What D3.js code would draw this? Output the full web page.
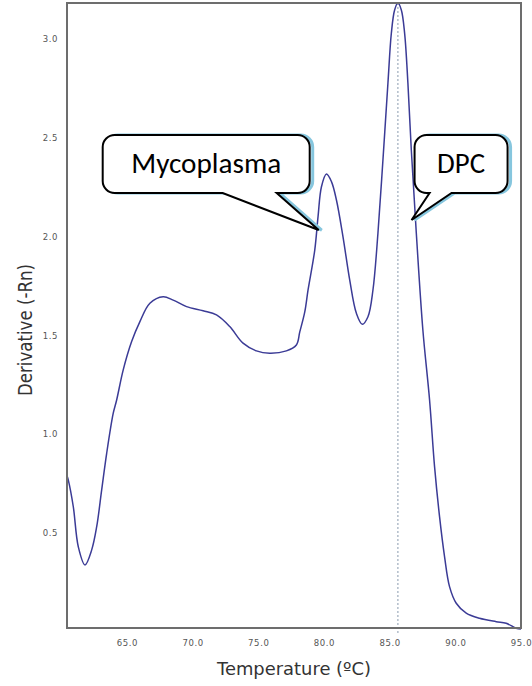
<!DOCTYPE html>
<html><head><meta charset="utf-8">
<script src="https://cdn.jsdelivr.net/npm/d3@7"></script>
<style>html,body{margin:0;padding:0;background:#fff;}svg{display:block;}</style>
</head><body>
<script>
// ---- data ----
const temperature = [60.44,60.54,60.92,61.30,61.81,62.32,62.70,63.08,63.46,63.96,64.22,64.72,65.36,65.99,66.75,67.76,68.52,69.54,70.80,71.82,72.83,73.84,74.86,75.87,77.14,77.90,78.16,78.54,78.79,79.30,79.55,79.81,80.19,80.57,80.95,81.45,81.96,82.47,82.92,83.35,83.73,84.11,84.49,84.87,85.13,85.38,85.63,85.89,86.14,86.39,86.65,87.03,87.53,88.04,88.42,88.80,89.18,89.56,90.07,90.83,91.84,93.11,93.87,94.63,95.0];
const derivative  = [0.79,0.768,0.633,0.431,0.339,0.415,0.532,0.718,0.903,1.106,1.173,1.325,1.468,1.569,1.662,1.695,1.678,1.645,1.624,1.603,1.544,1.460,1.421,1.409,1.421,1.451,1.517,1.618,1.729,1.931,2.100,2.251,2.315,2.277,2.184,1.998,1.780,1.611,1.556,1.594,1.729,2.016,2.386,2.774,3.027,3.145,3.18,3.145,3.028,2.776,2.437,2.017,1.527,1.173,0.836,0.583,0.381,0.229,0.145,0.095,0.069,0.052,0.044,0.019,0.015];
const xTicks = [65,70,75,80,85,90,95];
const yTicks = [0.5,1.0,1.5,2.0,2.5,3.0];
const peakTemp = 85.63;
const callouts = [
  {label:"Mycoplasma", tipT:79.6, tipV:2.032},
  {label:"DPC", tipT:86.67, tipV:2.083}
];
const xTitle = "Temperature (\u00baC)";
const yTitle = "Derivative (-Rn)";

// ---- layout ----
const W=532,H=686;
const L=67,R=521,T=3,B=628;
const svg=d3.select("body").append("svg").attr("width",W).attr("height",H);
const x=d3.scaleLinear().domain([60.44,95]).range([L,R]);
const y=d3.scaleLinear().domain([0.02,3.18]).range([B,T]);

// axes (labels only)
const tickFont="'DejaVu Sans', sans-serif";
const gx=svg.append("g").attr("transform",`translate(0,${B})`)
  .call(d3.axisBottom(x).tickValues(xTicks).tickSize(0).tickPadding(12).tickFormat(d3.format(".1f")));
gx.select(".domain").remove();
gx.selectAll("text").attr("font-family",tickFont).attr("font-size",8.5).attr("fill","#555").attr("letter-spacing","0.6px");
const gy=svg.append("g").attr("transform",`translate(${L},0)`)
  .call(d3.axisLeft(y).tickValues(yTicks).tickSize(0).tickPadding(9).tickFormat(d3.format(".1f")));
gy.select(".domain").remove();
gy.selectAll("text").attr("font-family",tickFont).attr("font-size",8.5).attr("fill","#555").attr("letter-spacing","0.6px");

// dashed peak marker
svg.append("line").attr("x1",x(peakTemp)).attr("x2",x(peakTemp)).attr("y1",T).attr("y2",B+5)
  .attr("stroke","#8a9aae").attr("stroke-width",1).attr("stroke-dasharray","2,2");

// curve
const pts=temperature.map((t,i)=>[t,derivative[i]]);
svg.append("path").datum(pts)
  .attr("d",d3.line().x(d=>x(d[0])).y(d=>y(d[1])).curve(d3.curveCatmullRom.alpha(0.5)))
  .attr("fill","none").attr("stroke","#3b3b96").attr("stroke-width",1.5);

// frame
svg.append("rect").attr("x",L).attr("y",T).attr("width",R-L).attr("height",B-T)
  .attr("fill","none").attr("stroke","#6d6d6d").attr("stroke-width",2);

// titles
svg.append("text").attr("x",294).attr("y",675).attr("text-anchor","middle")
  .attr("font-family","'DejaVu Sans', sans-serif").attr("font-size",17).attr("fill","#333")
  .attr("textLength",154).attr("lengthAdjust","spacingAndGlyphs").text(xTitle);
svg.append("text").attr("transform","translate(32,330) rotate(-90)").attr("text-anchor","middle")
  .attr("font-family","'DejaVu Sans', sans-serif").attr("font-size",20).attr("fill","#333")
  .attr("textLength",132).attr("lengthAdjust","spacingAndGlyphs").text(yTitle);

// callouts
function calloutPath(x0,y0,x1,y1,r,b0,b1,tx,ty){
  const p=d3.path();
  p.moveTo(x0+r,y0);
  p.lineTo(x1-r,y0); p.arcTo(x1,y0,x1,y0+r,r);
  p.lineTo(x1,y1-r); p.arcTo(x1,y1,x1-r,y1,r);
  p.lineTo(b1,y1); p.lineTo(tx,ty); p.lineTo(b0,y1);
  p.lineTo(x0+r,y1); p.arcTo(x0,y1,x0,y1-r,r);
  p.lineTo(x0,y0+r); p.arcTo(x0,y0,x0+r,y0,r);
  p.closePath();
  return p.toString();
}
const boxes=[
  {dx0:-216,dx1:-9,dy0:-95,dy1:-37,b0:-96,b1:-42,tw:150,fs:28},
  {dx0:3,dx1:96,dy0:-85,dy1:-27,b0:18,b1:40,tw:48,fs:28}
];
callouts.forEach((c,i)=>{
  const tx=x(c.tipT), ty=y(c.tipV), bx=boxes[i];
  const d=calloutPath(tx+bx.dx0,ty+bx.dy0,tx+bx.dx1,ty+bx.dy1,12,tx+bx.b0,tx+bx.b1,tx,ty);
  svg.append("path").attr("d",d).attr("transform","translate(3,0)").attr("fill","none")
    .attr("stroke","#86c6de").attr("stroke-width",3);
  svg.append("path").attr("d",d).attr("fill","#fff").attr("stroke","#000").attr("stroke-width",2);
  const t=svg.append("text").attr("x",tx+(bx.dx0+bx.dx1)/2).attr("y",ty+(bx.dy0+bx.dy1)/2+9)
    .attr("text-anchor","middle").attr("font-family","Carlito, Lato, 'Open Sans', sans-serif")
    .attr("font-weight",300)
    .attr("font-size",bx.fs).attr("fill","#000").text(c.label);
  const w=t.node().getComputedTextLength();
  t.attr("font-size",bx.fs*bx.tw/w);
});
</script>
</body></html>
